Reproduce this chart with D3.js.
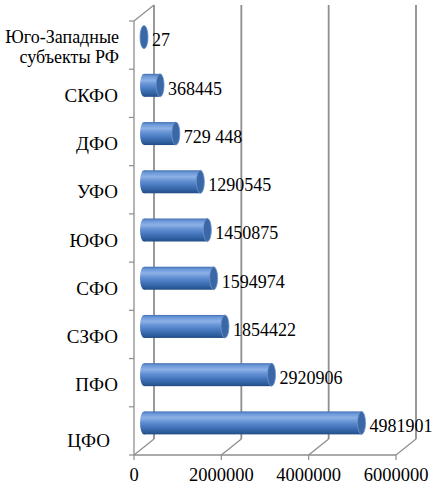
<!DOCTYPE html>
<html><head><meta charset="utf-8">
<script src="https://cdn.jsdelivr.net/npm/d3@7"></script>
<style>body{margin:0;background:#fff} svg{display:block}</style>
</head><body><svg width="433" height="484"></svg>
<script>
const categories = ["ЦФО","ПФО","СЗФО","СФО","ЮФО","УФО","ДФО","СКФО","Юго-Западные субъекты РФ"];
const values = [4981901, 2920906, 1854422, 1594974, 1450875, 1290545, 729448, 368445, 27];
const valueLabels = ["4981901","2920906","1854422","1594974","1450875","1290545","729 448","368445","27"];
const xTicks = [0, 2000000, 4000000, 6000000];
const xTickLabels = ["0","2000000","4000000","6000000"];

const svg = d3.select("svg");
const ox = 134, oy = 455, dx = 20, dy = -16, topY = 21;
const gridColor = "#8e8e8e";
const FONT = "Liberation Serif";

const x = d3.scaleLinear().domain([0, 6000000]).range([ox, ox + 262]);
const y = d3.scaleBand().domain(categories).range([oy, topY]);

const defs = svg.append("defs");
const g = defs.append("linearGradient").attr("id","cyl").attr("x1",0).attr("y1",0).attr("x2",0).attr("y2",1);
[[0,"#4270b2"],[0.1,"#6a97d8"],[0.28,"#8db1e6"],[0.45,"#6693d5"],[0.7,"#4273b9"],[0.9,"#2d5c9b"],[1,"#224c85"]]
  .forEach(([o,c]) => g.append("stop").attr("offset",o).attr("stop-color",c));

svg.append("g").selectAll("line").data(xTicks).join("line")
  .attr("x1", d => x(d) + dx).attr("x2", d => x(d) + dx)
  .attr("y1", topY + dy).attr("y2", oy + dy)
  .attr("stroke", gridColor).attr("stroke-width", 1.8);
svg.append("g").selectAll("line").data(xTicks).join("line")
  .attr("x1", d => x(d)).attr("y1", oy)
  .attr("x2", d => x(d) + dx).attr("y2", oy + dy)
  .attr("stroke", gridColor).attr("stroke-width", 1.3);
svg.append("line").attr("x1", ox).attr("y1", topY).attr("x2", ox + dx).attr("y2", topY + dy)
  .attr("stroke", gridColor).attr("stroke-width", 1.3);
svg.append("line").attr("x1", ox).attr("y1", topY).attr("x2", ox).attr("y2", oy)
  .attr("stroke", gridColor).attr("stroke-width", 1.3);
const bounds = categories.map(c => y(c)).concat([oy]);
svg.append("g").selectAll("line").data(bounds).join("line")
  .attr("x1", ox - 5).attr("x2", ox).attr("y1", d => d).attr("y2", d => d)
  .attr("stroke", gridColor).attr("stroke-width", 1.2);
svg.append("line").attr("x1", ox).attr("y1", oy).attr("x2", x(6000000)).attr("y2", oy)
  .attr("stroke", gridColor).attr("stroke-width", 1.3);
svg.append("g").selectAll("line").data(xTicks).join("line")
  .attr("x1", d => x(d)).attr("x2", d => x(d)).attr("y1", oy).attr("y2", oy + 5)
  .attr("stroke", gridColor).attr("stroke-width", 1.2);
svg.append("g").selectAll("text").data(xTicks).join("text")
  .attr("x", d => x(d)).attr("y", 481).attr("text-anchor","middle")
  .style("font-family", FONT).style("font-size", "18.5px").attr("fill","#000")
  .text((d,i) => xTickLabels[i]);

const bw = y.bandwidth();
const labG = svg.append("g").attr("fill","#000").attr("text-anchor","end");
categories.forEach((c, i) => {
  const cy = y(c) + bw / 2 + (i === 0 ? 9 : 2);
  const parts = c === "Юго-Западные субъекты РФ" ? ["Юго-Западные","субъекты РФ"] : [c];
  const lx = i === 0 ? 110 : (parts.length > 1 ? 119 : 118);
  const t = labG.append("text").attr("x", lx).attr("y", cy - (parts.length - 1) * 10)
    .style("font-family", FONT).style("font-size", parts.length > 1 ? "18px" : "19px");
  parts.forEach((p, k) => t.append("tspan").attr("x", lx).attr("dy", k === 0 ? "0.35em" : 20).text(p));
});

const ry = 11.5, rx = 4;
const bars = svg.append("g");
categories.forEach((c, i) => {
  const cy = y(c) + bw / 2 + dy / 2;
  const x0 = x(0) + dx / 2, x1 = x(values[i]) + dx / 2;
  const bg = bars.append("g");
  bg.append("ellipse").attr("cx", x0).attr("cy", cy).attr("rx", rx).attr("ry", ry).attr("fill","url(#cyl)");
  bg.append("rect").attr("x", x0).attr("y", cy - ry).attr("width", Math.max(0, x1 - x0)).attr("height", 2 * ry).attr("fill","url(#cyl)");
  bg.append("ellipse").attr("cx", x1).attr("cy", cy).attr("rx", rx).attr("ry", ry)
    .attr("fill","#3a67a6").attr("stroke","#6d94cc").attr("stroke-width",0.8);
  svg.append("text").attr("x", x1 + rx + 4).attr("y", cy + 3).attr("dy","0.35em")
    .style("font-family", FONT).style("font-size", "18px").attr("fill","#000")
    .text(valueLabels[i]);
});
</script>
</body></html>
